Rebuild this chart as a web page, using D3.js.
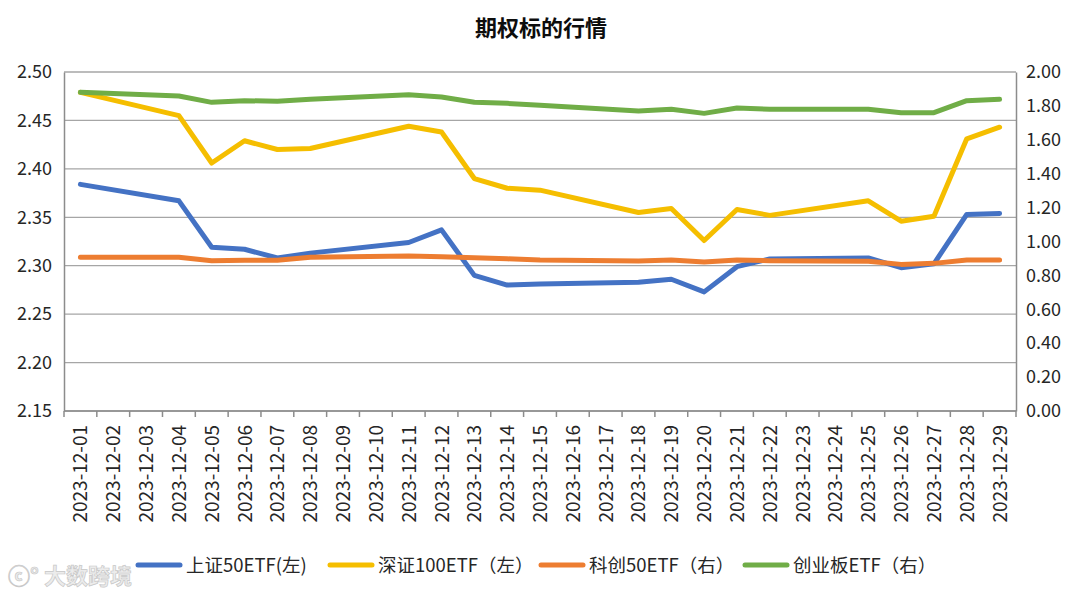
<!DOCTYPE html>
<html>
<head>
<meta charset="utf-8">
<script src="https://cdn.jsdelivr.net/npm/d3@7/dist/d3.min.js"></script>
<style>
  body { margin: 0; background: #fff; }
  text { font-family: "Noto Sans CJK SC", "Noto Sans", sans-serif; fill: #262626; }
</style>
</head>
<body>
<svg id="chart" width="1080" height="597"></svg>
<script>
"use strict";

// trading days shown with data
let tradeDays = ["2023-12-01","2023-12-04","2023-12-05","2023-12-06","2023-12-07","2023-12-08",
  "2023-12-11","2023-12-12","2023-12-13","2023-12-14","2023-12-15",
  "2023-12-18","2023-12-19","2023-12-20","2023-12-21","2023-12-22",
  "2023-12-25","2023-12-26","2023-12-27","2023-12-28","2023-12-29"]

let sz50 = [2.384,2.367,2.319,2.317,2.308,2.313,2.324,2.337,2.290,2.280,2.281,
  2.283,2.286,2.273,2.299,2.307,2.308,2.298,2.302,2.353,2.354]
let sz100 = [2.479,2.455,2.406,2.429,2.420,2.421,2.444,2.438,2.390,2.380,2.378,
  2.355,2.359,2.326,2.358,2.352,2.367,2.346,2.351,2.431,2.443]
let kc50 = [0.907,0.907,0.887,0.889,0.889,0.907,0.915,0.910,0.904,0.898,0.891,
  0.885,0.891,0.879,0.891,0.887,0.883,0.865,0.871,0.891,0.891]
let cyb = [1.880,1.858,1.821,1.831,1.827,1.839,1.866,1.853,1.821,1.815,1.804,
  1.770,1.780,1.756,1.788,1.780,1.780,1.760,1.760,1.831,1.839]

let leftTicks = [2.15,2.20,2.25,2.30,2.35,2.40,2.45,2.50]
let rightTicks = [0,0.2,0.4,0.6,0.8,1.0,1.2,1.4,1.6,1.8,2.0]

let seriesNames = ["上证50ETF(左)", "深证100ETF（左）", "科创50ETF（右）", "创业板ETF（右）"]
let seriesColors = ["#4472C4", "#F5BE00", "#ED7D31", "#70AD47"]

// every calendar day on the category axis
let fmt = d3.timeFormat("%Y-%m-%d")
let allDays = d3.timeDay.range(new Date(2023, 11, 1), new Date(2023, 11, 30)).map(fmt)

let svg = d3.select("#chart")
let m = {left: 64, right: 1016, top: 72, bottom: 411}

let x = d3.scaleBand().domain(allDays).range([m.left, m.right])
let yL = d3.scaleLinear().domain([2.15, 2.50]).range([m.bottom, m.top])
let yR = d3.scaleLinear().domain([0, 2.0]).range([m.bottom, m.top])

svg.append("text")
    .attr("x", 541).attr("y", 36)
    .attr("text-anchor", "middle")
    .attr("font-size", 22).attr("font-weight", "bold")
    .style("fill", "#0d0d0d")
    .text("期权标的行情")

// grid
svg.append("g").selectAll("line").data(leftTicks).join("line")
    .attr("x1", m.left).attr("x2", m.right)
    .attr("y1", d => yL(d)).attr("y2", d => yL(d))
    .attr("stroke", "#a6a6a6").attr("stroke-width", 1.3)

// left axis
let gL = svg.append("g").attr("transform", "translate(" + m.left + ",0)")
    .call(d3.axisLeft(yL).tickValues(leftTicks).tickFormat(d3.format(".2f")).tickSize(0).tickPadding(12))
gL.select(".domain").attr("stroke", "#8c8c8c").attr("stroke-width", 1.5)
gL.selectAll("text").attr("font-size", 18).attr("font-family", "Noto Sans CJK SC").attr("fill", "#262626")

// right axis
let gR = svg.append("g").attr("transform", "translate(" + m.right + ",0)")
    .call(d3.axisRight(yR).tickValues(rightTicks).tickFormat(d3.format(".2f")).tickSize(0).tickPadding(10))
gR.select(".domain").attr("stroke", "#8c8c8c").attr("stroke-width", 1.5)
gR.selectAll("text").attr("font-size", 18).attr("font-family", "Noto Sans CJK SC").attr("fill", "#262626")

// bottom axis: ticks at category boundaries
let gB = svg.append("g").attr("transform", "translate(0," + m.bottom + ")")
gB.append("line").attr("x1", m.left).attr("x2", m.right)
    .attr("stroke", "#8c8c8c").attr("stroke-width", 1.5)
gB.selectAll("line.tk").data(allDays.concat(["end"])).join("line")
    .attr("class", "tk")
    .attr("x1", (d, i) => m.left + i * x.step()).attr("x2", (d, i) => m.left + i * x.step())
    .attr("y1", 0).attr("y2", 6)
    .attr("stroke", "#8c8c8c").attr("stroke-width", 1.5)
gB.selectAll("text").data(allDays).join("text")
    .attr("transform", d => "translate(" + (x(d) + x.bandwidth() / 2 + 7) + ",14) rotate(-90)")
    .attr("text-anchor", "end")
    .attr("font-size", 19)
    .text(d => d)

// lines
let data = [
  {vals: sz50, y: yL}, {vals: sz100, y: yL}, {vals: kc50, y: yR}, {vals: cyb, y: yR}
]
data.forEach((s, k) => {
  let line = d3.line()
      .x((d, i) => x(tradeDays[i]) + x.bandwidth() / 2)
      .y(d => s.y(d))
  svg.append("path").datum(s.vals)
      .attr("d", line)
      .attr("fill", "none")
      .attr("stroke", seriesColors[k])
      .attr("stroke-width", 5)
      .attr("stroke-linejoin", "round")
      .attr("stroke-linecap", "round")
})

// legend
let legendX = [138, 330, 541, 745]
let lg = svg.append("g")
seriesNames.forEach((n, k) => {
  lg.append("line")
      .attr("x1", legendX[k]).attr("x2", legendX[k] + 42)
      .attr("y1", 565).attr("y2", 565)
      .attr("stroke", seriesColors[k]).attr("stroke-width", 5)
      .attr("stroke-linecap", "round")
  lg.append("text")
      .attr("x", legendX[k] + 48).attr("y", 572)
      .attr("font-size", 18.5)
      .text(n)
})

// watermark
svg.append("text")
    .attr("x", 8).attr("y", 584)
    .attr("font-size", 22).attr("font-weight", "bold")
    .style("fill", "#ececec")
    .style("stroke", "#c8c8c8").style("stroke-width", 0.7)
    .text("ⓒ° 大数跨境")
</script>
</body>
</html>
